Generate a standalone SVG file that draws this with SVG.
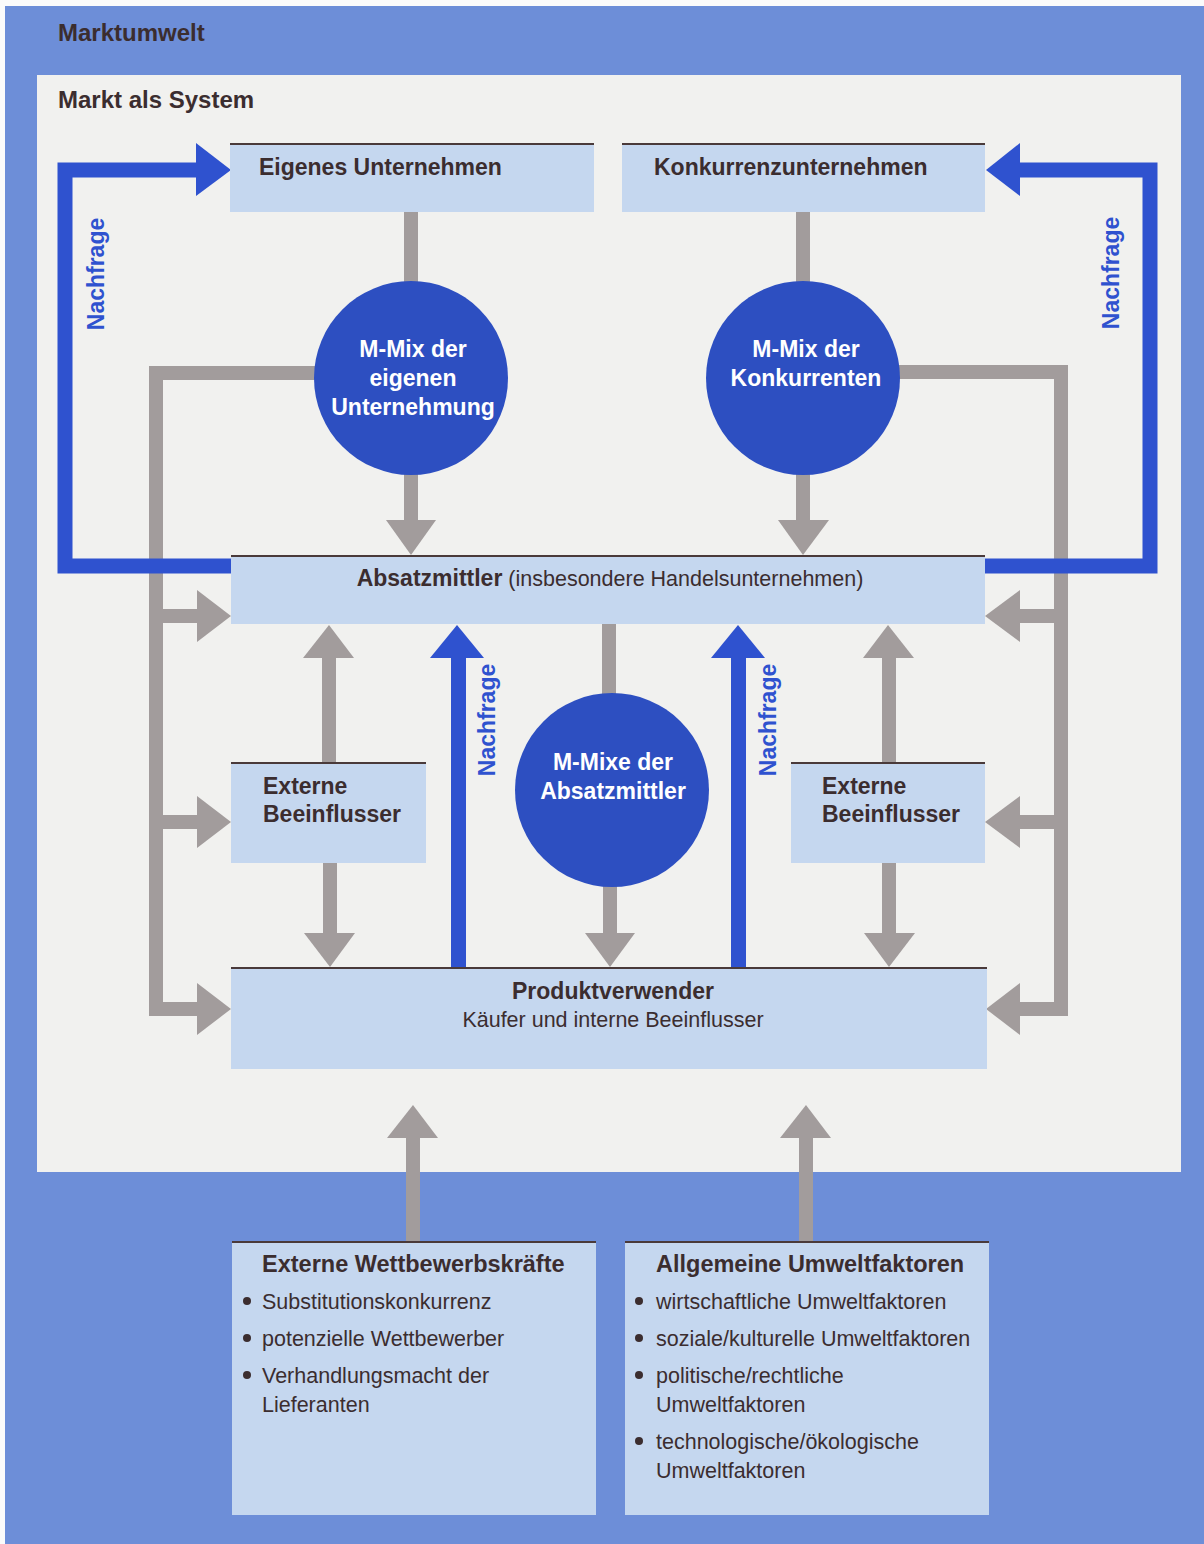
<svg xmlns="http://www.w3.org/2000/svg" width="1204" height="1544" viewBox="0 0 1204 1544">
<style>
.bg{fill:#6d8ed8}
.panel{fill:#f1f1ef}
.box{fill:#c5d7ef}
.topline{stroke:#4a3a3a;stroke-width:2}
.circ{fill:#2d4fc1}
.g{fill:#a29c9c}
.gl{fill:none;stroke:#a29c9c;stroke-width:14;stroke-linejoin:miter}
.b{fill:#2f52cf}
.bl{fill:none;stroke:#2f52cf;stroke-width:15;stroke-linejoin:miter}
.t{font-family:"Liberation Sans",Arial,sans-serif;fill:#3b2d2f}
.bold{font-weight:bold;font-size:23px}
.reg{font-weight:normal;font-size:21.5px}
.big{font-size:24px}
.w{font-family:"Liberation Sans",Arial,sans-serif;font-weight:bold;font-size:23px;fill:#ffffff;text-anchor:middle}
.nf{font-family:"Liberation Sans",Arial,sans-serif;font-weight:bold;font-size:23px;fill:#2f52cf;text-anchor:middle}
.dot{fill:#3b2d2f}
</style>
<rect x="0" y="0" width="1204" height="1544" fill="#fbfbfb"/>
<rect class="bg" x="5" y="6" width="1199" height="1538"/>
<text class="t bold big" x="58" y="41">Marktumwelt</text>
<rect class="panel" x="37" y="75" width="1144" height="1097"/>
<text class="t bold big" x="58" y="108">Markt als System</text>

<g id="connectors">
  <!-- gray connectors -->
  <rect class="g" x="404" y="210" width="14" height="74"/>
  <rect class="g" x="404" y="470" width="14" height="52"/>
  <polygon class="g" points="386,520 436,520 411,555"/>
  <rect class="g" x="796" y="210" width="14" height="74"/>
  <rect class="g" x="796" y="470" width="14" height="52"/>
  <polygon class="g" points="778,520 829,520 803,555"/>
  <path class="gl" d="M 320 373 H 156 V 1009 H 200"/>
  <rect class="g" x="156" y="609" width="44" height="14"/>
  <rect class="g" x="156" y="815" width="44" height="14"/>
  <polygon class="g" points="197,590 197,642 231,616"/>
  <polygon class="g" points="197,796 197,848 231,822"/>
  <polygon class="g" points="197,983 197,1035 231,1009"/>
  <path class="gl" d="M 895 372 H 1061 V 1009 H 1018"/>
  <rect class="g" x="1018" y="609" width="44" height="14"/>
  <rect class="g" x="1018" y="815" width="44" height="14"/>
  <polygon class="g" points="1020,590 1020,642 985,616"/>
  <polygon class="g" points="1020,796 1020,848 985,822"/>
  <polygon class="g" points="1020,983 1020,1035 986,1009"/>
  <rect class="g" x="602" y="623" width="14" height="74"/>
  <rect class="g" x="603" y="880" width="14" height="55"/>
  <polygon class="g" points="585,933 635,933 610,967"/>
  <rect class="g" x="322" y="655" width="14" height="108"/>
  <polygon class="g" points="303,658 354,658 329,625"/>
  <rect class="g" x="323" y="861" width="14" height="74"/>
  <polygon class="g" points="304,933 355,933 330,967"/>
  <rect class="g" x="882" y="655" width="14" height="108"/>
  <polygon class="g" points="863,658 914,658 888,625"/>
  <rect class="g" x="882" y="861" width="14" height="74"/>
  <polygon class="g" points="864,933 915,933 889,967"/>
  <rect class="g" x="406" y="1136" width="14" height="106"/>
  <polygon class="g" points="387,1138 438,1138 413,1105"/>
  <rect class="g" x="799" y="1136" width="14" height="106"/>
  <polygon class="g" points="780,1138 831,1138 806,1105"/>
  <!-- blue Nachfrage connectors -->
  <path class="bl" d="M 232 566 H 65 V 170 H 200"/>
  <polygon class="b" points="196,143 196,196 231,170"/>
  <path class="bl" d="M 984 566 H 1150 V 170 H 1018"/>
  <polygon class="b" points="1020,143 1020,196 986,170"/>
  <rect class="b" x="451" y="655" width="15" height="313"/>
  <polygon class="b" points="430,658 484,658 457,625"/>
  <rect class="b" x="731" y="655" width="15" height="313"/>
  <polygon class="b" points="711,658 765,658 738,625"/>
  <text class="nf" transform="translate(104,274) rotate(-90)">Nachfrage</text>
  <text class="nf" transform="translate(1119,273) rotate(-90)">Nachfrage</text>
  <text class="nf" transform="translate(495,720) rotate(-90)">Nachfrage</text>
  <text class="nf" transform="translate(776,720) rotate(-90)">Nachfrage</text>
</g>

<g id="eigenes-unternehmen">
  <rect class="box" x="230" y="143" width="364" height="69"/>
  <line class="topline" x1="230" y1="144" x2="594" y2="144"/>
  <text class="t bold" x="259" y="175">Eigenes Unternehmen</text>
</g>
<g id="konkurrenzunternehmen">
  <rect class="box" x="622" y="143" width="363" height="69"/>
  <line class="topline" x1="622" y1="144" x2="985" y2="144"/>
  <text class="t bold" x="654" y="175">Konkurrenzunternehmen</text>
</g>
<g id="mmix-eigen">
  <circle class="circ" cx="411" cy="378" r="97"/>
  <text class="w" x="413" y="357">M-Mix der</text>
  <text class="w" x="413" y="386">eigenen</text>
  <text class="w" x="413" y="415">Unternehmung</text>
</g>
<g id="mmix-konkurrenten">
  <circle class="circ" cx="803" cy="378" r="97"/>
  <text class="w" x="806" y="357">M-Mix der</text>
  <text class="w" x="806" y="386">Konkurrenten</text>
</g>
<g id="absatzmittler">
  <rect class="box" x="231" y="555" width="754" height="69"/>
  <line class="topline" x1="231" y1="556" x2="985" y2="556"/>
  <text class="t" x="610" y="586" text-anchor="middle"><tspan class="bold">Absatzmittler</tspan><tspan class="reg"> (insbesondere Handelsunternehmen)</tspan></text>
</g>
<g id="externe-beeinflusser-links">
  <rect class="box" x="231" y="762" width="195" height="101"/>
  <line class="topline" x1="231" y1="763" x2="426" y2="763"/>
  <text class="t bold" x="263" y="794">Externe</text>
  <text class="t bold" x="263" y="822">Beeinflusser</text>
</g>
<g id="mmixe-absatzmittler">
  <circle class="circ" cx="612" cy="790" r="97"/>
  <text class="w" x="613" y="770">M-Mixe der</text>
  <text class="w" x="613" y="799">Absatzmittler</text>
</g>
<g id="externe-beeinflusser-rechts">
  <rect class="box" x="791" y="762" width="194" height="101"/>
  <line class="topline" x1="791" y1="763" x2="985" y2="763"/>
  <text class="t bold" x="822" y="794">Externe</text>
  <text class="t bold" x="822" y="822">Beeinflusser</text>
</g>
<g id="produktverwender">
  <rect class="box" x="231" y="967" width="756" height="102"/>
  <line class="topline" x1="231" y1="968" x2="987" y2="968"/>
  <text class="t bold" x="613" y="999" text-anchor="middle">Produktverwender</text>
  <text class="t reg" x="613" y="1027" text-anchor="middle">Käufer und interne Beeinflusser</text>
</g>
<g id="externe-wettbewerbskraefte">
  <rect class="box" x="232" y="1241" width="364" height="274"/>
  <line class="topline" x1="232" y1="1242" x2="596" y2="1242"/>
  <text class="t bold" x="262" y="1272" style="font-size:23.5px">Externe Wettbewerbskräfte</text>
  <circle class="dot" cx="247" cy="1301" r="4"/>
  <text class="t reg" x="262" y="1309">Substitutionskonkurrenz</text>
  <circle class="dot" cx="247" cy="1338" r="4"/>
  <text class="t reg" x="262" y="1346">potenzielle Wettbewerber</text>
  <circle class="dot" cx="247" cy="1375" r="4"/>
  <text class="t reg" x="262" y="1383">Verhandlungsmacht der</text>
  <text class="t reg" x="262" y="1412">Lieferanten</text>
</g>
<g id="allgemeine-umweltfaktoren">
  <rect class="box" x="625" y="1241" width="364" height="274"/>
  <line class="topline" x1="625" y1="1242" x2="989" y2="1242"/>
  <text class="t bold" x="656" y="1272" style="font-size:23.5px">Allgemeine Umweltfaktoren</text>
  <circle class="dot" cx="639" cy="1301" r="4"/>
  <text class="t reg" x="656" y="1309">wirtschaftliche Umweltfaktoren</text>
  <circle class="dot" cx="639" cy="1338" r="4"/>
  <text class="t reg" x="656" y="1346">soziale/kulturelle Umweltfaktoren</text>
  <circle class="dot" cx="639" cy="1375" r="4"/>
  <text class="t reg" x="656" y="1383">politische/rechtliche</text>
  <text class="t reg" x="656" y="1412">Umweltfaktoren</text>
  <circle class="dot" cx="639" cy="1441" r="4"/>
  <text class="t reg" x="656" y="1449">technologische/ökologische</text>
  <text class="t reg" x="656" y="1478">Umweltfaktoren</text>
</g>
</svg>
